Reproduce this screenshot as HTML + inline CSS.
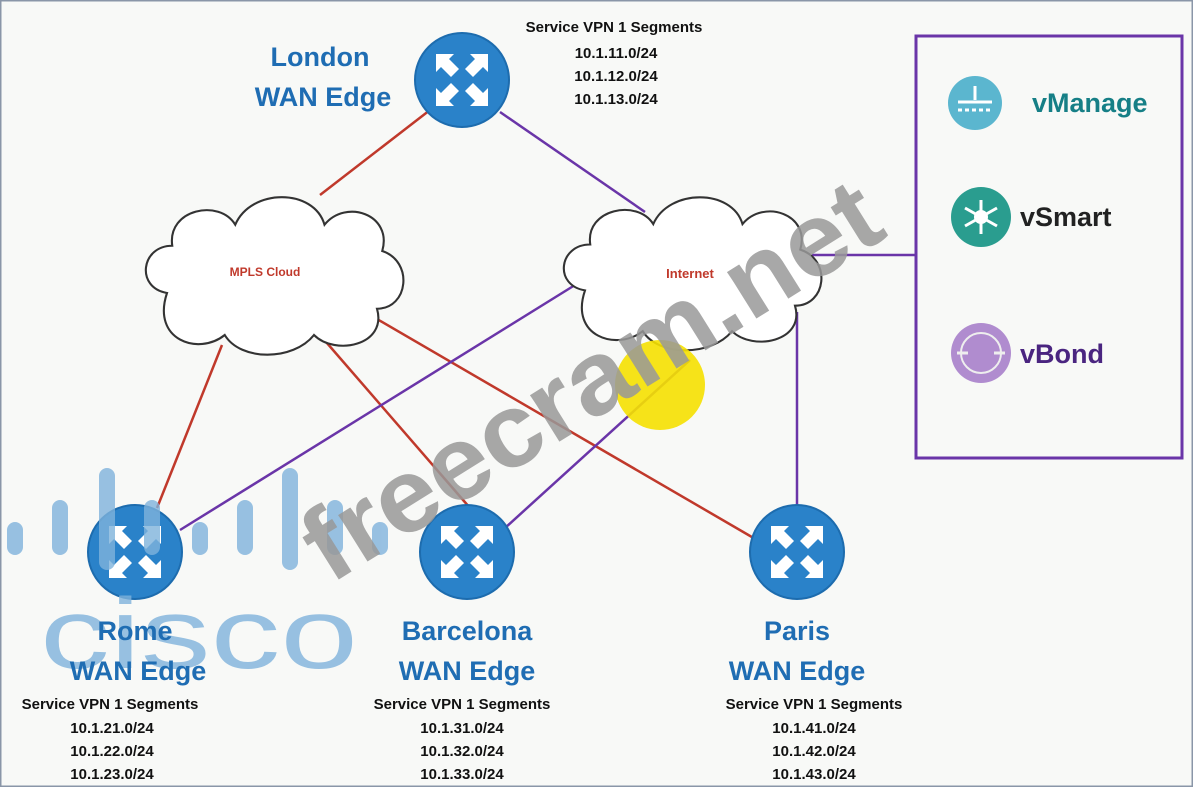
<!DOCTYPE html>
<html><head><meta charset="utf-8"><style>
html,body{margin:0;padding:0;background:#f8f9f7;}
svg{display:block;}
text{font-family:"Liberation Sans",sans-serif;}
</style></head><body>
<svg width="1193" height="787" viewBox="0 0 1193 787" xmlns="http://www.w3.org/2000/svg">
<defs>
<path id="arr" d="M-26,-26 L-8,-26 L-13,-21 L-3,-11 L-11,-3 L-21,-13 L-26,-8 Z" fill="#fff"/>
<g id="rt">
<circle r="47" fill="#2a82c9" stroke="#1d6cae" stroke-width="2"/>
<use href="#arr"/>
<use href="#arr" transform="rotate(90)"/>
<use href="#arr" transform="rotate(180)"/>
<use href="#arr" transform="rotate(270)"/>
</g>
<path id="cloud" d="M-100,20 C-130,15 -125,-25 -95,-25 C-100,-60 -50,-70 -35,-45 C-20,-80 40,-80 50,-45 C70,-70 115,-55 105,-20 C135,-10 130,35 100,35 C110,70 60,80 40,60 C20,85 -30,85 -45,60 C-70,80 -115,65 -100,20 Z"/>
</defs>
<rect x="0.5" y="0.5" width="1192" height="786" fill="#f8f9f7" stroke="#8a96a8" stroke-width="2"/>

<g stroke="#c0392b" stroke-width="2.5">
<line x1="430" y1="110" x2="320" y2="195"/>
<line x1="222" y1="345" x2="157" y2="508"/>
<line x1="320" y1="335" x2="470" y2="508"/>
<line x1="365" y1="312" x2="757" y2="540"/>
</g>
<g stroke="#6a35a8" stroke-width="2.5">
<line x1="500" y1="112" x2="645" y2="212"/>
<line x1="575" y1="285" x2="180" y2="530"/>
<line x1="690" y1="360" x2="505" y2="528"/>
<line x1="797" y1="312" x2="797" y2="505"/>
<line x1="812" y1="255" x2="916" y2="255"/>
</g>

<use href="#cloud" transform="translate(272,272) scale(1.05,1.05)" fill="#fff" stroke="#333" stroke-width="2"/>
<text x="265" y="276" font-size="12" font-weight="bold" fill="#c0392b" text-anchor="middle">MPLS Cloud</text>
<use href="#cloud" transform="translate(690,270) scale(1.05,1.02)" fill="#fff" stroke="#333" stroke-width="2"/>
<text x="690" y="278" font-size="13" font-weight="bold" fill="#c0392b" text-anchor="middle">Internet</text>

<circle cx="660" cy="385" r="45" fill="#f5e000" opacity="0.9"/>

<use href="#rt" x="462" y="80"/>
<use href="#rt" x="135" y="552"/>
<use href="#rt" x="467" y="552"/>
<use href="#rt" x="797" y="552"/>

<!-- cisco watermark -->
<g fill="#7fb3dc" opacity="0.8">
<rect x="7" y="522" width="16" height="33" rx="8"/>
<rect x="52" y="500" width="16" height="55" rx="8"/>
<rect x="99" y="468" width="16" height="102" rx="8"/>
<rect x="144" y="500" width="16" height="55" rx="8"/>
<rect x="192" y="522" width="16" height="33" rx="8"/>
<rect x="237" y="500" width="16" height="55" rx="8"/>
<rect x="282" y="468" width="16" height="102" rx="8"/>
<rect x="327" y="500" width="16" height="55" rx="8"/>
<rect x="372" y="522" width="16" height="33" rx="8"/>
</g>
<text x="40" y="668" font-size="100" fill="#7fb3dc" opacity="0.8" textLength="318" lengthAdjust="spacingAndGlyphs">cisco</text>

<g font-size="27" font-weight="bold" fill="#1f6db3" text-anchor="middle">
<text x="320" y="66">London</text><text x="323" y="106">WAN Edge</text>
<text x="135" y="640">Rome</text><text x="138" y="680">WAN Edge</text>
<text x="467" y="640">Barcelona</text><text x="467" y="680">WAN Edge</text>
<text x="797" y="640">Paris</text><text x="797" y="680">WAN Edge</text>
</g>
<g font-size="15" font-weight="bold" fill="#111" text-anchor="middle">
<text x="614" y="32">Service VPN 1 Segments</text><text x="616" y="58">10.1.11.0/24</text><text x="616" y="81">10.1.12.0/24</text><text x="616" y="104">10.1.13.0/24</text>
<text x="110" y="709">Service VPN 1 Segments</text><text x="112" y="733">10.1.21.0/24</text><text x="112" y="756">10.1.22.0/24</text><text x="112" y="779">10.1.23.0/24</text>
<text x="462" y="709">Service VPN 1 Segments</text><text x="462" y="733">10.1.31.0/24</text><text x="462" y="756">10.1.32.0/24</text><text x="462" y="779">10.1.33.0/24</text>
<text x="814" y="709">Service VPN 1 Segments</text><text x="814" y="733">10.1.41.0/24</text><text x="814" y="756">10.1.42.0/24</text><text x="814" y="779">10.1.43.0/24</text>
</g>

<rect x="916" y="36" width="266" height="422" fill="none" stroke="#6a35a8" stroke-width="3"/>
<circle cx="975" cy="103" r="27" fill="#5bb6cf"/>
<g stroke="#fff" stroke-width="3"><line x1="975" y1="86" x2="975" y2="100"/><line x1="958" y1="102" x2="992" y2="102"/><line x1="958" y1="110" x2="992" y2="110" stroke-dasharray="4 3"/></g>
<text x="1032" y="112" font-size="27" font-weight="bold" fill="#167f86">vManage</text>
<circle cx="981" cy="217" r="30" fill="#2a9d8f"/>
<g stroke="#fff" stroke-width="3"><line x1="981" y1="200" x2="981" y2="234"/><line x1="965" y1="208" x2="997" y2="226"/><line x1="965" y1="226" x2="997" y2="208"/></g>
<circle cx="981" cy="217" r="7" fill="#fff"/>
<text x="1020" y="226" font-size="27" font-weight="bold" fill="#222">vSmart</text>
<circle cx="981" cy="353" r="30" fill="#b08ccf"/>
<circle cx="981" cy="353" r="20" fill="none" stroke="#eee" stroke-width="2"/>
<g stroke="#eee" stroke-width="3"><line x1="957" y1="353" x2="968" y2="353"/><line x1="994" y1="353" x2="1005" y2="353"/></g>
<text x="1020" y="363" font-size="27" font-weight="bold" fill="#4a2580">vBond</text>

<text x="0" y="0" font-size="104" font-weight="bold" fill="#999" opacity="0.85" transform="translate(330,585) rotate(-32)" textLength="660" lengthAdjust="spacingAndGlyphs">freecram.net</text>
</svg>
</body></html>
